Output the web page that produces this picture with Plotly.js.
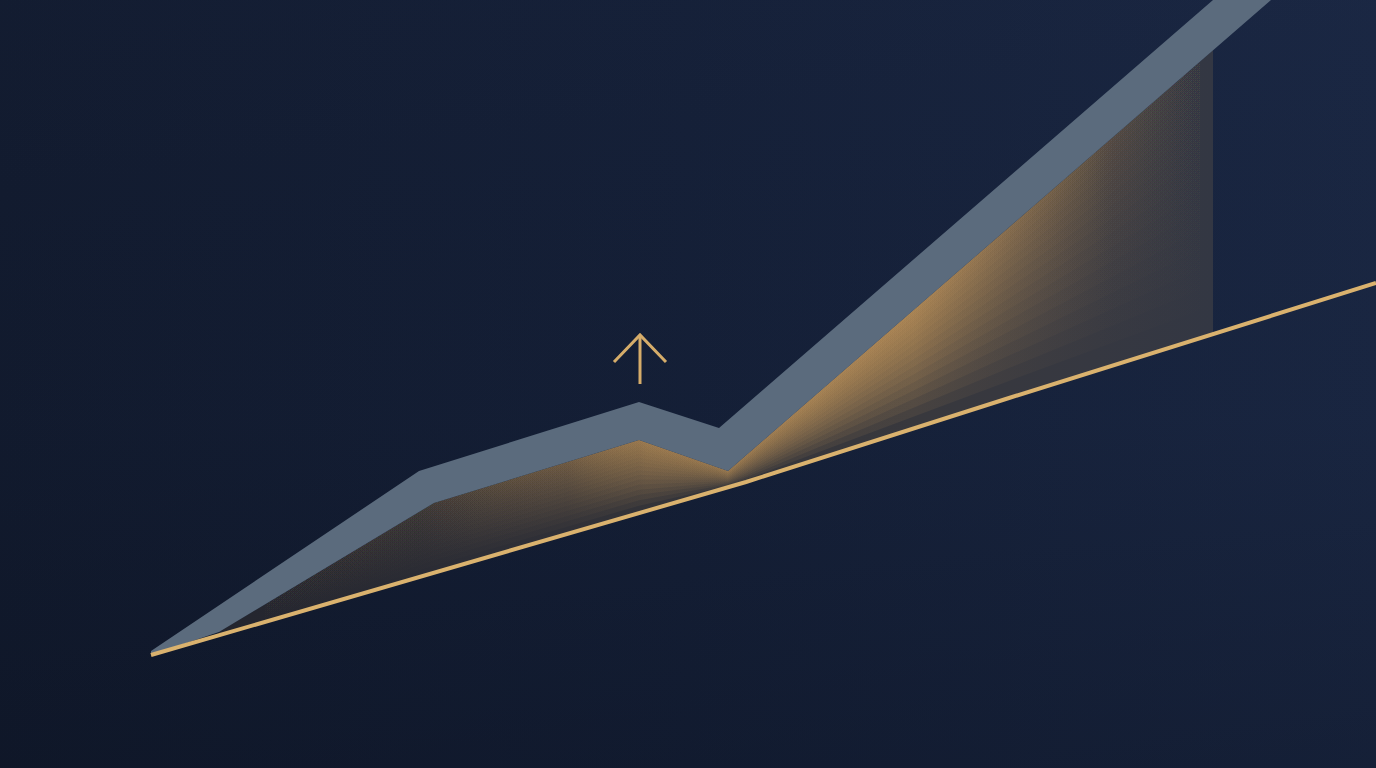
<!DOCTYPE html>
<html>
<head>
<meta charset="utf-8">
<script src="https://cdn.plot.ly/plotly-3.0.1.min.js"></script>
<style>html,body{margin:0;padding:0;background:#131d31;overflow:hidden}#chart{width:1376px;height:768px}</style>
</head>
<body>
<div id="chart"></div>
<script>
// ---- data (x: position along time axis, y: value, upward) ----
const bandTopX = [151, 419, 639, 719, 1213];
const bandTopY = [117, 297, 366, 340, 768];
const bandBottomX = [219, 434, 639, 728, 1271];
const bandBottomY = [136, 265, 328, 297, 768];
const goldX = [151, 456, 746, 1009, 1376];
const goldY = [113, 202, 286, 370, 485];
const fillEndX = 1213;
const arrowShaftX = [640, 640];
const arrowShaftY = [384, 433];
const arrowHeadX = [614, 640, 666];
const arrowHeadY = [406, 433, 406];

function interp(xs, ys, x) {
  if (x <= xs[0]) return ys[0] + (ys[1]-ys[0])*(x-xs[0])/(xs[1]-xs[0]);
  for (let i = 0; i < xs.length-1; i++) {
    if (x >= xs[i] && x <= xs[i+1]) return ys[i] + (ys[i+1]-ys[i])*(x-xs[i])/(xs[i+1]-xs[i]);
  }
  const n = xs.length;
  return ys[n-2] + (ys[n-1]-ys[n-2])*(x-xs[n-2])/(xs[n-1]-xs[n-2]);
}

const x0 = bandBottomX[0];
const grid = Array.from(new Set([...bandBottomX, ...goldX, fillEndX]))
  .filter(v => v >= x0 && v <= fillEndX).sort((a,b)=>a-b);
const lowerAt = grid.map(x => interp(bandBottomX, bandBottomY, x));
const goldAt = grid.map(x => interp(goldX, goldY, x));

function region(t0, t1) {
  const a = grid.map((x,i) => lowerAt[i] + t0*(goldAt[i]-lowerAt[i]));
  const b = grid.map((x,i) => lowerAt[i] + t1*(goldAt[i]-lowerAt[i]));
  return {x: grid.concat(grid.slice().reverse()), y: a.concat(b.slice().reverse())};
}

const W = 1376, H = 768;
const traces = [];

// background
traces.push({x:[0,W,W,0,0], y:[0,0,H,H,0], mode:'lines', fill:'toself', line:{width:0},
  fillgradient:{type:'horizontal', start:0, stop:W,
    colorscale:[[0,'#121b2f'],[0.5,'#152038'],[1,'#1a2743']]}, hoverinfo:'skip'});
traces.push({x:[0,W,W,0,0], y:[0,0,H,H,0], mode:'lines', fill:'toself', line:{width:0},
  fillgradient:{type:'vertical', start:0, stop:H,
    colorscale:[[0,'rgba(6,10,20,0.25)'],[0.45,'rgba(6,10,20,0.05)'],[1,'rgba(30,42,70,0.08)']]}, hoverinfo:'skip'});

// base fill between band and gold line
const base = region(0, 1);
traces.push({x: base.x, y: base.y, mode:'lines', fill:'toself', line:{width:0},
  fillgradient:{type:'horizontal', start:x0, stop:fillEndX,
    colorscale:[[0,'#23252e'],[0.25,'#2c2d35'],[0.45,'#343439'],[0.7,'#38383d'],[0.88,'#363841'],[1,'#333743']]},
  hoverinfo:'skip'});

// glow layers near band edge (stacked, fading towards the gold line)
const glowScale = [[0,'rgba(175,135,80,0)'],[0.2,'rgba(175,135,80,0.01)'],[0.35,'rgba(180,138,82,0.04)'],
  [0.43,'rgba(185,142,85,0.09)'],[0.5,'rgba(185,142,85,0.08)'],[0.6,'rgba(190,146,88,0.105)'],
  [0.7,'rgba(190,146,88,0.11)'],[0.8,'rgba(178,138,86,0.06)'],[0.9,'rgba(165,128,82,0.02)'],[1,'rgba(165,128,82,0)']];
const glowSteps = 16;
for (let k = 1; k <= glowSteps; k++) {
  const g = region(0, Math.pow(k/glowSteps, 1.35) * 0.9);
  traces.push({x:g.x, y:g.y, mode:'lines', fill:'toself', line:{width:0},
    fillgradient:{type:'horizontal', start:x0, stop:fillEndX, colorscale:glowScale}, hoverinfo:'skip'});
}

// band
const bandX = bandTopX.concat(bandBottomX.slice().reverse(), [goldX[0]]);
const bandY = bandTopY.concat(bandBottomY.slice().reverse(), [goldY[0]]);
traces.push({x:bandX, y:bandY, mode:'lines', fill:'toself', fillcolor:'#5b6b7d', line:{width:0}, hoverinfo:'skip'});

// gold line
traces.push({x:goldX, y:goldY, mode:'lines', line:{color:'#dab26e', width:4}, hoverinfo:'skip'});

// arrow
traces.push({x:arrowShaftX, y:arrowShaftY, mode:'lines', line:{color:'#d6ad6a', width:3}, hoverinfo:'skip'});
traces.push({x:arrowHeadX, y:arrowHeadY, mode:'lines', line:{color:'#d6ad6a', width:3}, hoverinfo:'skip'});

const layout = {
  width: W, height: H,
  margin: {l:0, r:0, t:0, b:0, pad:0},
  paper_bgcolor: '#131d31', plot_bgcolor: '#131d31',
  showlegend: false, hovermode: false,
  xaxis: {range:[0,W], visible:false, fixedrange:true},
  yaxis: {range:[0,H], visible:false, fixedrange:true}
};
Plotly.newPlot('chart', traces, layout, {displayModeBar:false, staticPlot:true});
</script>
</body>
</html>
